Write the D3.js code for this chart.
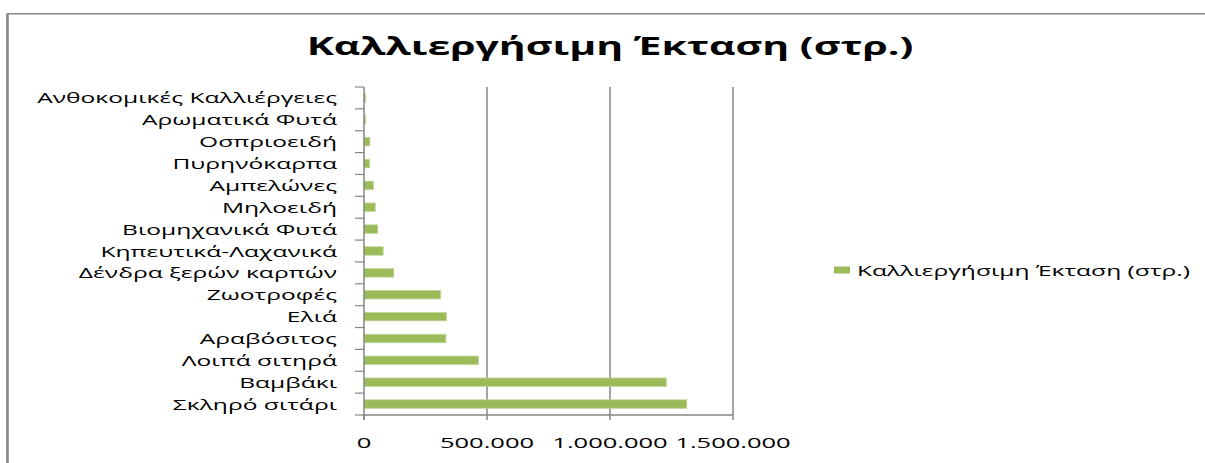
<!DOCTYPE html>
<html>
<head>
<meta charset="utf-8">
<script src="https://cdn.jsdelivr.net/npm/d3@7"></script>
<style>
  html, body { margin: 0; padding: 0; background: #fff; }
  svg { display: block; }
  text { font-family: "Open Sans", "Noto Sans", sans-serif; fill: #000; }
</style>
</head>
<body>
<svg id="chart" width="1205" height="463"></svg>
<script>
// Crop categories, listed top to bottom
const categories = [
  "Ανθοκομικές Καλλιέργειες",
  "Αρωματικά Φυτά",
  "Οσπριοειδή",
  "Πυρηνόκαρπα",
  "Αμπελώνες",
  "Μηλοειδή",
  "Βιομηχανικά Φυτά",
  "Κηπευτικά-Λαχανικά",
  "Δένδρα ξερών καρπών",
  "Ζωοτροφές",
  "Ελιά",
  "Αραβόσιτος",
  "Λοιπά σιτηρά",
  "Βαμβάκι",
  "Σκληρό σιτάρι"
];
// Cultivable area in stremmata
const areaValues = [
  7000, 7000, 24000, 23000, 39000, 46000, 56000, 78000,
  121000, 312000, 335000, 333000, 466000, 1229000, 1312000
];
const xTickValues = [0, 500000, 1000000, 1500000];
const seriesName = "Καλλιεργήσιμη Έκταση (στρ.)";
const chartTitle = "Καλλιεργήσιμη Έκταση (στρ.)";

const svg = d3.select("#chart");
const SX = 1.64;                // horizontal widening of all text
const gridColor = "#868686";
const barColor = "#9bbb59";

const plot = { left: 364, right: 733, top: 87, bottom: 415 };

const x = d3.scaleLinear().domain([0, 1500000]).range([plot.left, plot.right]);
const yBand = d3.scaleBand().domain(categories).range([plot.top, plot.bottom]);

const fmt = v => d3.format(",")(v).replace(/,/g, ".");

function wideText(g, tx, ty, str, opts) {
  return g.append("text")
    .attr("transform", `translate(${tx},${ty}) scale(${opts.sx || SX},1)`)
    .attr("text-anchor", opts.anchor || "start")
    .style("font-size", opts.size + "px")
    .style("font-weight", opts.weight || "normal")
    .text(str);
}

// Chart frame
svg.append("rect")
  .attr("x", 7.25).attr("y", 13.75)
  .attr("width", 1300).attr("height", 600)
  .attr("fill", "none")
  .attr("stroke", "#878787")
  .attr("stroke-width", 1.5);
svg.append("line")
  .attr("x1", 7.5).attr("x2", 7.5).attr("y1", 14).attr("y2", 463)
  .attr("stroke", "#878787").attr("stroke-width", 2.5);

// Title
wideText(svg, 610, 55, chartTitle, { anchor: "middle", size: 25, weight: "bold" });

// Vertical gridlines
svg.append("g").selectAll("line")
  .data(xTickValues.filter(d => d > 0))
  .join("line")
  .attr("x1", d => x(d)).attr("x2", d => x(d))
  .attr("y1", plot.top).attr("y2", plot.bottom)
  .attr("stroke", gridColor).attr("stroke-width", 1.5);

// Bars
svg.append("g").selectAll("rect")
  .data(categories)
  .join("rect")
  .attr("x", x(0))
  .attr("y", d => yBand(d) + yBand.bandwidth() / 2 - 4.25)
  .attr("width", (d, i) => x(areaValues[i]) - x(0))
  .attr("height", 8.5)
  .attr("fill", barColor)
  .attr("stroke", "#c4d79e")
  .attr("stroke-width", 0.8);

// Category axis (left)
const yAxis = svg.append("g");
yAxis.append("line")
  .attr("x1", plot.left).attr("x2", plot.left)
  .attr("y1", plot.top).attr("y2", plot.bottom + 5)
  .attr("stroke", gridColor).attr("stroke-width", 1.5);
const boundaries = categories.map(c => yBand(c)).concat([plot.bottom]);
yAxis.selectAll("line.tick")
  .data(boundaries)
  .join("line")
  .attr("class", "tick")
  .attr("x1", plot.left - 9).attr("x2", plot.left)
  .attr("y1", d => d).attr("y2", d => d)
  .attr("stroke", gridColor).attr("stroke-width", 1.2);
categories.forEach(c => {
  wideText(yAxis, 337, yBand(c) + yBand.bandwidth() / 2 + 5.5, c, { anchor: "end", size: 15 });
});

// Value axis (bottom)
const xAxis = svg.append("g");
xAxis.append("line")
  .attr("x1", plot.left).attr("x2", plot.right)
  .attr("y1", plot.bottom).attr("y2", plot.bottom)
  .attr("stroke", gridColor).attr("stroke-width", 1.5);
xAxis.selectAll("line.tick")
  .data(xTickValues)
  .join("line")
  .attr("class", "tick")
  .attr("x1", d => x(d)).attr("x2", d => x(d))
  .attr("y1", plot.bottom).attr("y2", plot.bottom + 5)
  .attr("stroke", gridColor).attr("stroke-width", 1.5);
xTickValues.forEach(v => {
  wideText(xAxis, x(v), 448, fmt(v), { anchor: "middle", size: 15, sx: 1.7 });
});

// Legend
const legend = svg.append("g");
legend.append("rect")
  .attr("x", 834).attr("y", 266.5)
  .attr("width", 16).attr("height", 7)
  .attr("fill", barColor);
wideText(legend, 857, 275.5, seriesName, { anchor: "start", size: 15 });
</script>
</body>
</html>
